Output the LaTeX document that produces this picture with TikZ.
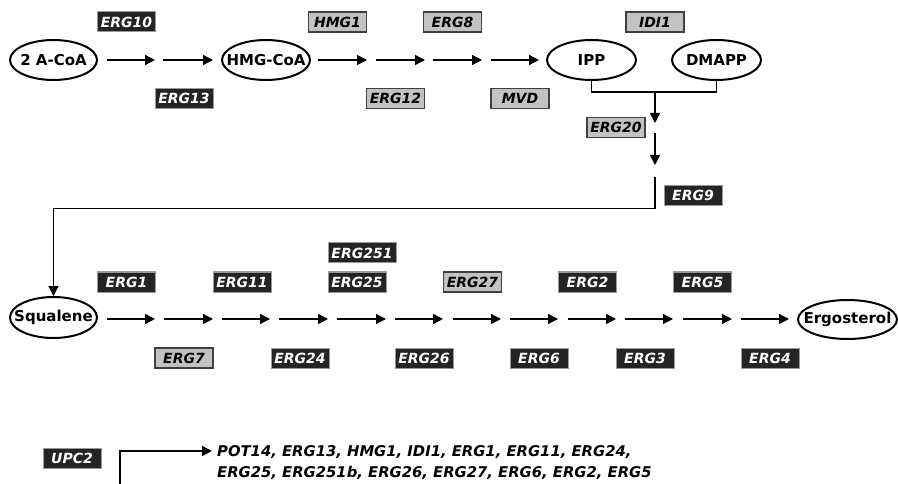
\documentclass[tikz,border=0pt]{standalone}
\usepackage{fontspec}
\setmainfont{DejaVu Sans}
\usetikzlibrary{shapes.geometric,arrows.meta}
\newcommand{\zw}[1]{\makebox[0pt]{#1}}
\tikzset{
  met/.style={ellipse, draw, line width=2pt, minimum width=#1, minimum height=40pt, inner sep=0pt,
    font=\fontsize{15}{16}\selectfont\bfseries},
  dbox/.style={fill=black!86, draw=black!40, line width=1pt, text=white, minimum width=58pt,
    minimum height=20pt, inner sep=0pt, font=\fontsize{14}{15}\selectfont\bfseries\itshape},
  gbox/.style={fill=black!24, draw=black!75, line width=1.4pt, text=black, minimum width=58pt,
    minimum height=20pt, inner sep=0pt, font=\fontsize{14}{15}\selectfont\bfseries\itshape},
  rx/.style={-{Triangle[length=10pt,width=10pt]}, line width=1.4pt},
  ln/.style={line width=1.4pt},
  gtext/.style={anchor=west, inner sep=0pt, font=\fontsize{14.8}{16}\selectfont\bfseries\itshape}
}
\begin{document}
\begin{tikzpicture}[x=1pt,y=-1pt]
\useasboundingbox (0,0) rectangle (898,484);
\fill[white] (0,0) rectangle (898,484);

% metabolites
\node[met=87pt] (acoa) at (53.5,60) {\zw{2 A-CoA}};
\node[met=88pt] (hmgcoa) at (266,60) {\zw{HMG-CoA}};
\node[met=89pt] (ipp) at (591.5,60) {\zw{IPP}};
\node[met=89pt] (dmapp) at (716.5,60) {\zw{DMAPP}};
\node[met=87pt, minimum height=41pt] (squal) at (53.5,317.5) {\zw{Squalene}};
\node[met=99pt, minimum height=39pt] (ergo) at (847.5,319.5) {\zw{Ergosterol}};

% top row arrows
\foreach \i/\a/\b in {1/107/155,2/163/213,3/318/367,4/376/425,5/433/482,6/491/539} {
  \coordinate (t\i s) at (\a,60); \coordinate (t\i e) at (\b,60);
  \draw[rx] (t\i s) -- (t\i e);
}
% second row arrows
\foreach \i/\a/\b in {1/107/155,2/164/213,3/222/270,4/279/328,5/337/386,6/395/443,7/453/501,8/510/558,9/568/616,10/625/673,11/683/732,12/741/789} {
  \coordinate (r\i s) at (\a,319); \coordinate (r\i e) at (\b,319);
  \draw[rx] (r\i s) -- (r\i e);
}

% top row enzymes
\node[dbox] (erg10) at (126.5,22) {ERG10};
\node[dbox] (erg13) at (184,98.5) {ERG13};
\node[gbox] (hmg1) at (337.5,22) {HMG1};
\node[gbox] (erg12) at (395.5,98.5) {ERG12};
\node[gbox] (erg8) at (452.5,22) {ERG8};
\node[gbox] (mvd) at (520,98.5) {MVD};
\node[gbox] (idi1) at (655,22) {IDI1};
\node[gbox] (erg20) at (616,127.5) {ERG20};
\node[dbox] (erg9) at (693,195.5) {ERG9};

% IPP / DMAPP junction
\coordinate (br) at (655,92);
\draw[ln] (ipp.south) |- (br) -| (dmapp.south);
\coordinate (v1e) at (655,123);
\draw[rx] (br) -- (v1e);
\coordinate (v2s) at (655,133); \coordinate (v2e) at (655,165);
\draw[rx] (v2s) -- (v2e);
\coordinate (v3s) at (655,177); \coordinate (v3c) at (655,208.5);
\draw[rx] (v3s) -- (v3c) -| (squal.north);

% second row enzymes
\node[dbox] (erg1) at (126.5,282) {ERG1};
\node[gbox] (erg7) at (184,358) {ERG7};
\node[dbox] (erg11) at (242,282) {ERG11};
\node[dbox] (erg24) at (300,358) {ERG24};
\node[dbox] (erg25) at (357,282) {ERG25};
\node[dbox, minimum width=68pt] (erg251) at (362,253) {ERG251};
\node[dbox] (erg26) at (424,358) {ERG26};
\node[gbox] (erg27) at (472.5,282) {ERG27};
\node[dbox] (erg6) at (539,358) {ERG6};
\node[dbox] (erg2) at (587.5,282) {ERG2};
\node[dbox] (erg3) at (645,358) {ERG3};
\node[dbox] (erg5) at (702.5,282) {ERG5};
\node[dbox] (erg4) at (770,358) {ERG4};

% UPC2 regulation
\node[dbox] (upc2) at (72,458.5) {UPC2};
\coordinate (u0) at (120,486);
\coordinate (u1) at (212,451);
\draw[rx] (u0) |- (u1);
\node[gtext] (tg1) at (217,452) {POT14, ERG13, HMG1, IDI1, ERG1, ERG11, ERG24,};
\node[gtext] (tg2) at (217,473) {ERG25, ERG251b, ERG26, ERG27, ERG6, ERG2, ERG5};
\end{tikzpicture}
\end{document}
